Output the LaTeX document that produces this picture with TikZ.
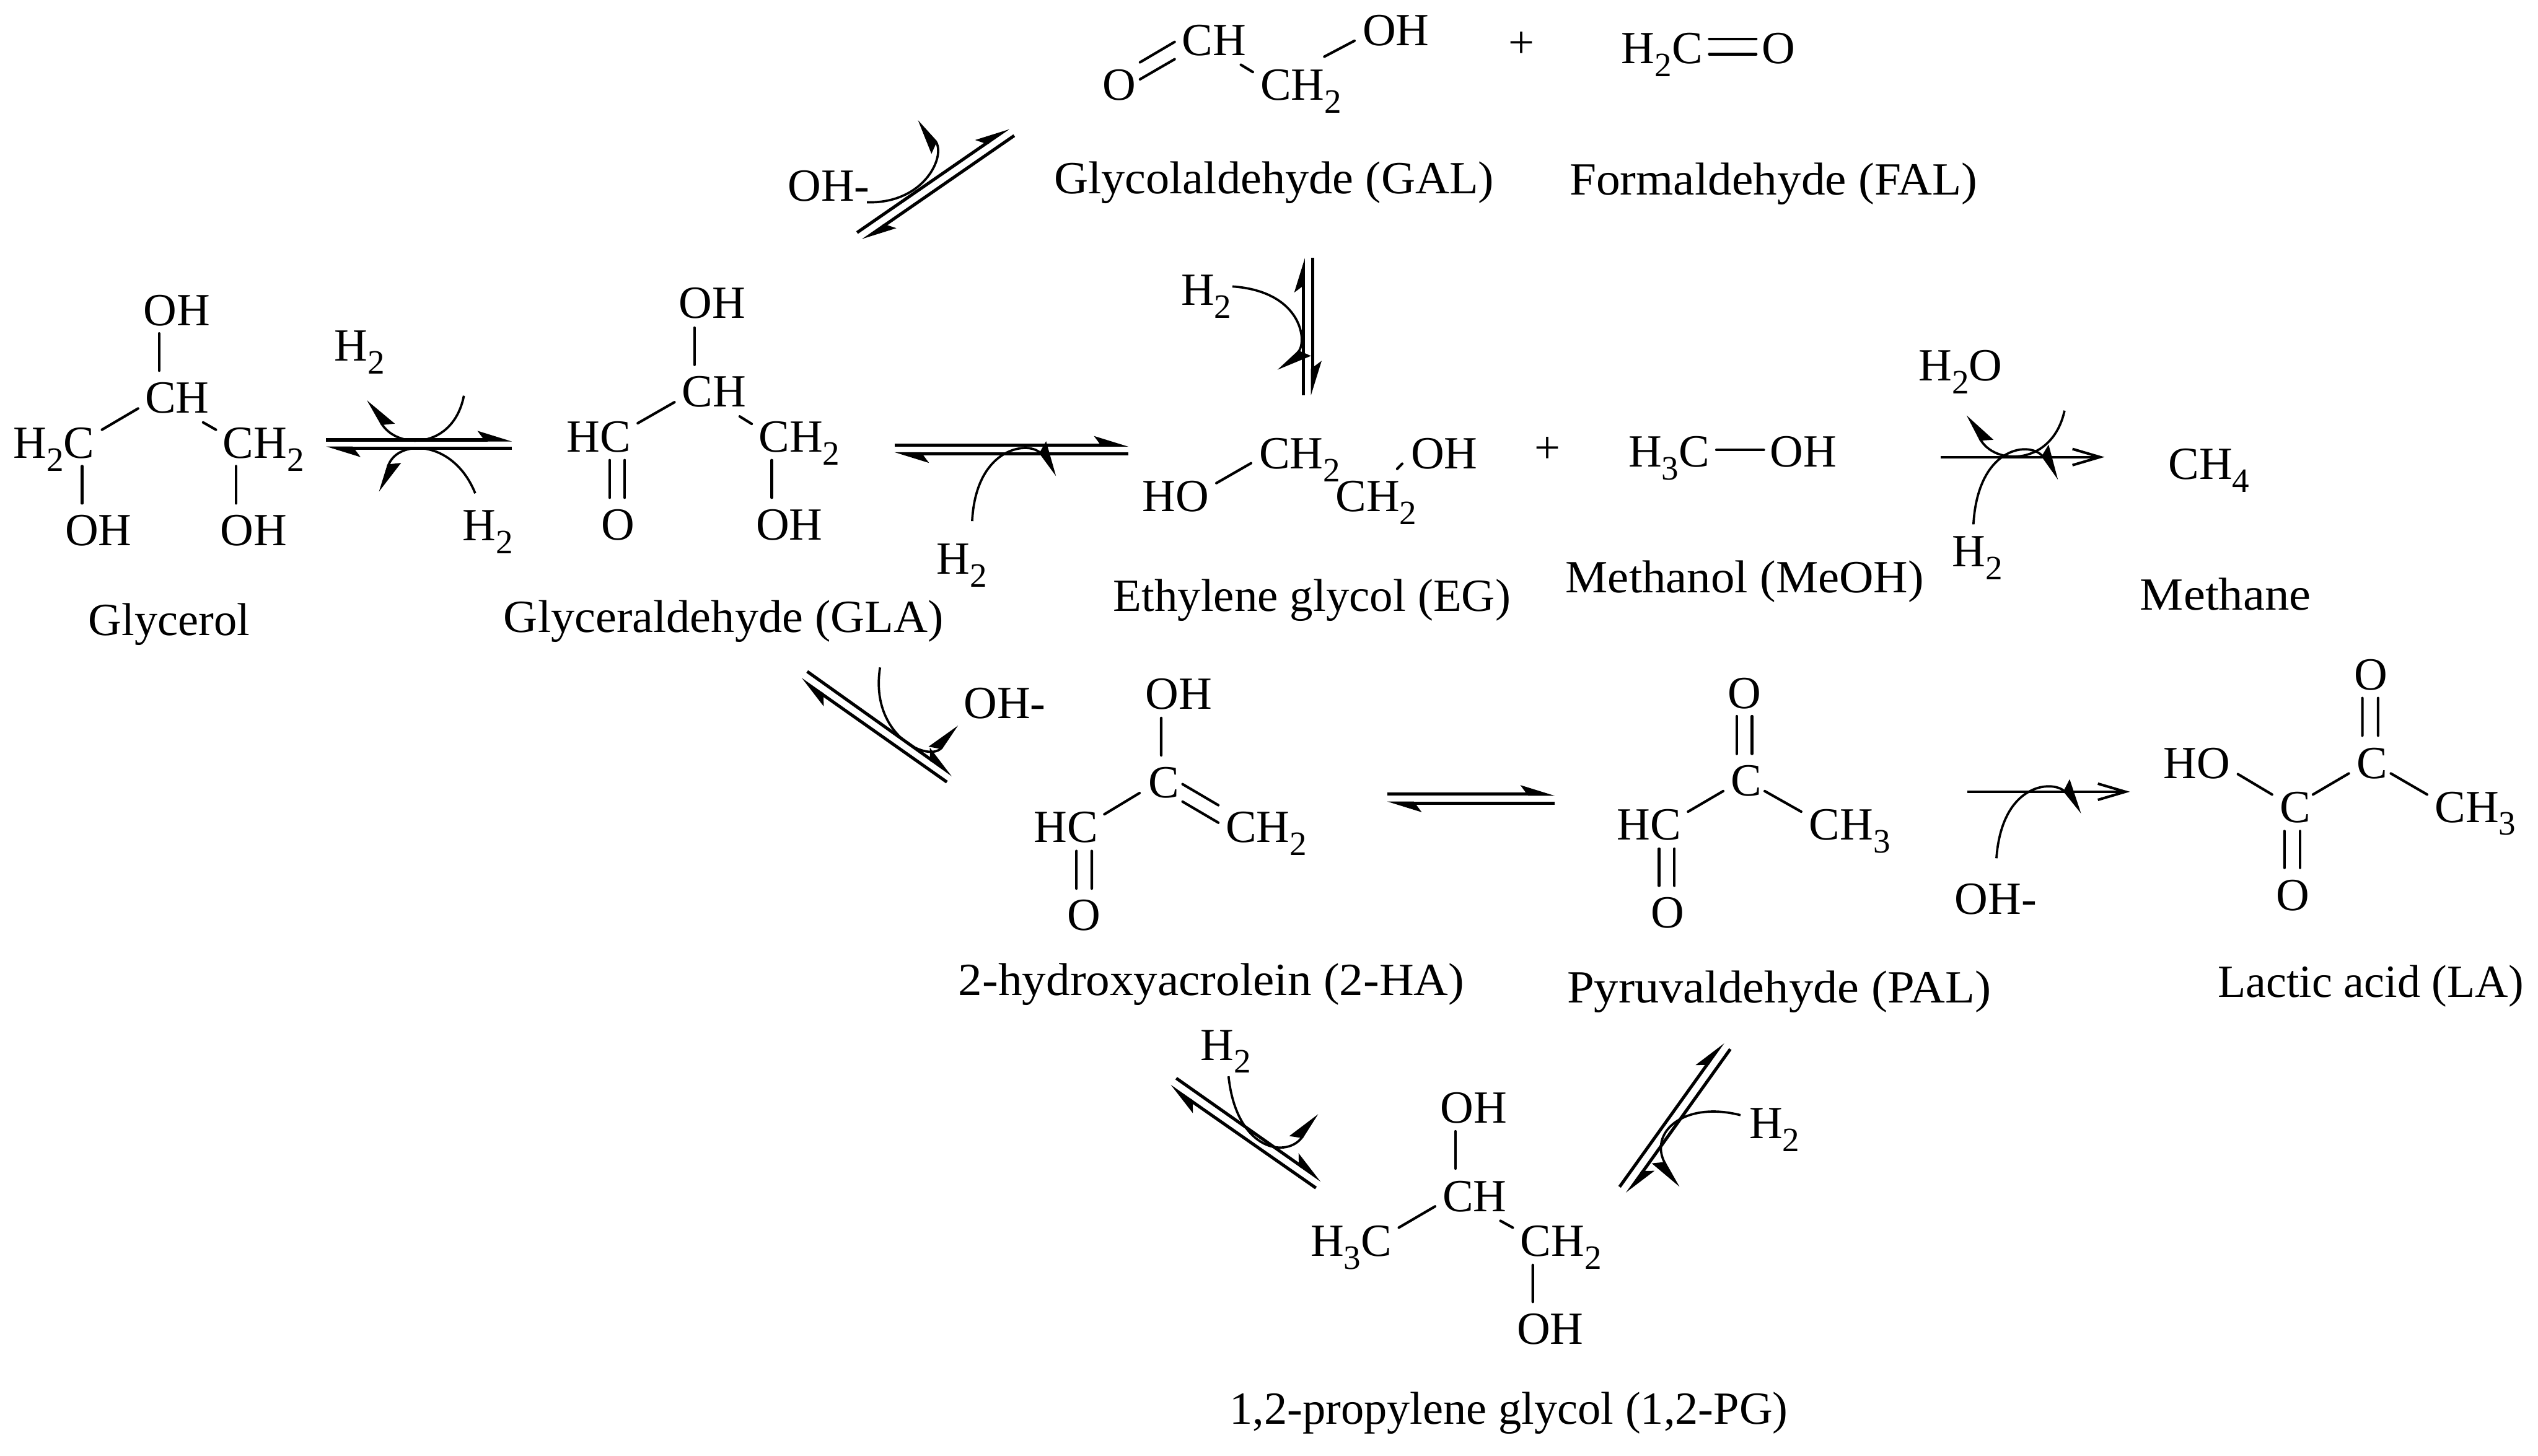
\documentclass[tikz,border=0pt]{standalone}
\usepackage{fontspec}
\setmainfont{Liberation Serif}
\usetikzlibrary{arrows.meta,calc}
\newcommand{\chsub}[1]{\raisebox{-0.08cm}{\fontsize{6}{7}\selectfont #1}}
\tikzset{
    atom/.style={anchor=base west,inner sep=0pt,font=\fontsize{8.1}{10}\selectfont},
    bond/.style={line width=0.45pt},
    eqm/.style={line width=0.55pt,-{Stealth[harpoon,length=1.8mm,width=1.1mm,inset=0.4mm]}},
    single/.style={line width=0.45pt,-{Straight Barb[length=1.7mm,width=1.0mm]}},
    curvl/.style={line width=0.4pt,-{Stealth[harpoon,length=1.9mm,width=1.4mm,inset=0.3mm]}},
    curvr/.style={line width=0.4pt,-{Stealth[harpoon,swap,length=1.9mm,width=1.4mm,inset=0.3mm]}},
}

\begin{document}
\begin{tikzpicture}[x=0.01cm,y=-0.01cm]
    \useasboundingbox (0,0) rectangle (1568,899.4);

    \node [atom] (gl-oh) at (88,201) {OH};
    \node [atom] (gl-ch) at (89,255) {CH};
    \node [atom] (gl-hc) at (7.5,283) {H\chsub{2}C};
    \node [atom] (gl-cc) at (137,283) {CH\chsub{2}};
    \node [atom] (gl-ol) at (39.5,337) {OH};
    \node [atom] (gl-or) at (135.5,337) {OH};
    \node [atom] (gl-nm) at (54,392.6) {Glycerol};
    \node [atom] (gl-ru) at (206,223) {H\chsub{2}};
    \node [atom] (gl-rd) at (285,334) {H\chsub{2}};

    \node [atom] (ga-oh) at (418.7,196.7) {OH};
    \node [atom] (ga-ch) at (420.7,251.3) {CH};
    \node [atom] (ga-hc) at (349.5,279.2) {HC};
    \node [atom] (ga-cc) at (468,279.2) {CH\chsub{2}};
    \node [atom] (ga-o) at (371,333.6) {O};
    \node [atom] (ga-or) at (466.4,333.6) {OH};
    \node [atom] (ga-nm) at (310.5,390.5) {\scalebox{1.026}[1]{Glyceraldehyde (GLA)}};
    \node [atom] (ga-r) at (578,354.7) {H\chsub{2}};

    \node [atom] (gc-ch) at (729.5,34.3) {CH};
    \node [atom] (gc-o) at (680.5,61.8) {O};
    \node [atom] (gc-cc) at (778,61.7) {CH\chsub{2}};
    \node [atom] (gc-oh) at (841.2,28) {OH};
    \node [atom] (gc-nm) at (650.5,119.5) {\scalebox{1.026}[1]{Glycolaldehyde (GAL)}};
    \node [atom] (gc-r) at (486,124.3) {OH-};
    \node [atom] (gc-s) at (729,188.5) {H\chsub{2}};

    \node [atom] (fa-pl) at (931.3,35.8) {+};
    \node [atom] (fa-hc) at (1001,39.3) {H\chsub{2}C};
    \node [atom] (fa-o) at (1088,39.3) {O};
    \node [atom] (fa-nm) at (969,120.3) {\scalebox{1.04}[1]{Formaldehyde (FAL)}};

    \node [atom] (eg-cu) at (777.3,289.5) {CH\chsub{2}};
    \node [atom] (eg-ho) at (705,315.9) {HO};
    \node [atom] (eg-cl) at (824.5,315.9) {CH\chsub{2}};
    \node [atom] (eg-oh) at (871,289.5) {OH};
    \node [atom] (eg-nm) at (687,377.5) {\scalebox{1.008}[1]{Ethylene glycol (EG)}};

    \node [atom] (me-pl) at (947.4,286) {+};
    \node [atom] (me-hc) at (1005.4,288.3) {H\chsub{3}C};
    \node [atom] (me-oh) at (1092.8,288.3) {OH};
    \node [atom] (me-nm) at (966.5,366) {\scalebox{1.033}[1]{Methanol (MeOH)}};

    \node [atom] (mt-ch) at (1339,296) {CH\chsub{4}};
    \node [atom] (mt-nm) at (1321.5,377) {\scalebox{1.06}[1]{Methane}};
    \node [atom] (mt-w) at (1184.6,235.2) {H\chsub{2}O};
    \node [atom] (mt-r) at (1205.4,350) {H\chsub{2}};

    \node [atom] (ha-oh) at (707,438) {OH};
    \node [atom] (ha-c) at (708.8,492.8) {C};
    \node [atom] (ha-hc) at (638,520.3) {HC};
    \node [atom] (ha-cc) at (756.5,520.3) {CH\chsub{2}};
    \node [atom] (ha-o) at (658.7,574.9) {O};
    \node [atom] (ha-nm) at (591.5,615) {\scalebox{1.037}[1]{2-hydroxyacrolein (2-HA)}};
    \node [atom] (ha-r) at (594.7,443.8) {OH-};

    \node [atom] (pa-ot) at (1066.8,437.6) {O};
    \node [atom] (pa-c) at (1068.8,491.7) {C};
    \node [atom] (pa-hc) at (998.4,518.9) {HC};
    \node [atom] (pa-cc) at (1117,518.9) {CH\chsub{3}};
    \node [atom] (pa-o) at (1019.4,573.4) {O};
    \node [atom] (pa-nm) at (967.5,619.7) {\scalebox{1.056}[1]{Pyruvaldehyde (PAL)}};
    \node [atom] (pa-r) at (1207,564.7) {OH-};

    \node [atom] (la-ho) at (1335.9,481) {HO};
    \node [atom] (la-ot) at (1453.8,426.4) {O};
    \node [atom] (la-ct) at (1455.5,481) {C};
    \node [atom] (la-cl) at (1407.8,508) {C};
    \node [atom] (la-cc) at (1503.6,508) {CH\chsub{3}};
    \node [atom] (la-o) at (1405.7,562.7) {O};
    \node [atom] (la-nm) at (1369.5,616.2) {\scalebox{0.995}[1]{Lactic acid (LA)}};

    \node [atom] (pg-oh) at (889.3,694) {OH};
    \node [atom] (pg-ch) at (890.6,748.4) {CH};
    \node [atom] (pg-hc) at (809,776) {H\chsub{3}C};
    \node [atom] (pg-cc) at (938.6,776) {CH\chsub{2}};
    \node [atom] (pg-or) at (936.5,830.5) {OH};
    \node [atom] (pg-nm) at (759,880) {1,2-propylene glycol (1,2-PG)};
    \node [atom] (pg-rl) at (741,655) {H\chsub{2}};
    \node [atom] (pg-rr) at (1080,703.3) {H\chsub{2}};

    % bonds, offsets from the start of each label
    \foreach \a/\ax/\ay/\b/\bx/\by in {
        gl-oh/10.3/5/gl-ch/9.3/-26, gl-ch/-3.7/-2.6/gl-hc/55.5/-17.5,
        gl-ch/36.5/6/gl-cc/-3.6/-17.5, gl-hc/43.2/5/gl-ol/11.2/-26,
        gl-cc/8.8/5/gl-or/10.3/-26,
        ga-oh/10.3/5.8/ga-ch/8.3/-25.9, ga-ch/-4/-2.8/ga-hc/44.5/-17.7,
        ga-ch/36.3/6/ga-cc/-3.6/-17.3, ga-hc/27.2/5.1/ga-o/5.7/-26.1,
        ga-hc/36.5/5.1/ga-o/15/-26.1, ga-cc/8.8/5.1/ga-or/10.4/-26.1,
        gc-ch/-3.8/-8.4/gc-o/23.8/-23.3, gc-ch/-3.8/2.3/gc-o/23.8/-12.8,
        gc-ch/37.1/5.7/gc-cc/-4/-17.2, gc-cc/40.2/-26.7/gc-oh/-4.4/-2.8,
        fa-hc/55/-15.3/fa-o/-3/-15.3, fa-hc/55/-5.8/fa-o/-3/-5.8,
        eg-cu/-4.4/-3.3/eg-ho/46.5/-17.4, eg-cl/38.7/-26.2/eg-oh/-4.7/-3,
        me-hc/55/-10.3/me-oh/-3.1/-10.3,
        ha-oh/10.4/5.6/ha-c/8.6/-26.1, ha-c/-4.8/-2.8/ha-hc/44.3/-17.2,
        ha-c/21.8/-8.3/ha-cc/-3.8/-22.8, ha-c/21.8/2.5/ha-cc/-3.8/-12,
        ha-hc/27/5.5/ha-o/6.3/-25.9, ha-hc/36.5/5.5/ha-o/15.8/-25.9,
        pa-ot/6.2/4.9/pa-c/4.2/-25.9, pa-ot/15.6/4.9/pa-c/13.6/-25.9,
        pa-c/-4.2/-2.9/pa-hc/44.5/-17.4, pa-c/21.5/-2.9/pa-cc/-4.2/-17.4,
        pa-hc/26.6/5.5/pa-o/5.6/-26.1, pa-hc/36.1/5.5/pa-o/15.1/-26.1,
        la-ot/5.7/4.9/la-ct/4/-26.5, la-ot/15.4/4.9/la-ct/13.7/-26.5,
        la-ho/46.7/-2.7/la-cl/-4.1/-17.1, la-ct/-4.4/-3.1/la-cl/21.2/-17.1,
        la-ct/21.6/-3.1/la-cc/-4.1/-17.1,
        la-cl/3.6/5.5/la-o/5.7/-26.5, la-cl/13.2/5.5/la-o/15.3/-26.5,
        pg-oh/9.9/5/pg-ch/8.6/-26.4, pg-ch/-4/-3/pg-hc/55.2/-17.5,
        pg-ch/36.4/5.9/pg-cc/-4/-17.5, pg-cc/8.4/5.6/pg-or/10.5/-26.1}
    {
        \draw [bond,line cap=round] ($(\a.base west)+(\ax,\ay)$) -- ($(\b.base west)+(\bx,\by)$);
    }

    % equilibrium arrows
    \foreach \nm/\xa/\ya/\xb/\yb/\xc/\yc/\xd/\yd in {
        eqa/201.4/271.8/316.3/271.8/316.3/276.8/201.4/276.8,
        eqb/529.5/143.7/623.2/79/626.6/83.8/533/148.5,
        eqc/805.2/244.3/805.2/159.4/810.9/159.4/810.9/244.3,
        eqd/552.6/275/697.2/275/697.2/280.4/552.6/280.4,
        eqe/498.7/414.9/588.6/478.9/585/483.2/494.7/419.6,
        eqf/857/490.7/960.6/490.7/960.6/496.2/857/496.2,
        eqg/726.7/666.2/816.5/729.4/813/734/722.7/671,
        eqh/1000.6/733.3/1064.5/644/1069/648.2/1005.2/737.5}
    {
        \coordinate (\nm-a) at (\xa,\ya);
        \coordinate (\nm-b) at (\xb,\yb);
        \coordinate (\nm-c) at (\xc,\yc);
        \coordinate (\nm-d) at (\xd,\yd);
        \draw [eqm] (\nm-a) -- (\nm-b);
        \draw [eqm] (\nm-c) -- (\nm-d);
    }

    \coordinate (sga) at (1199,282.4);
    \coordinate (sgb) at (1300.2,282.4);
    \coordinate (sha) at (1215.3,489.2);
    \coordinate (shb) at (1315.9,489.2);
    \draw [single] (sga) -- (sgb);
    \draw [single] (sha) -- (shb);

    % curved arrows
    \foreach \nm/\xa/\ya/\xc/\yc/\xd/\yd/\xb/\yb/\sd in {
        cva/286.6/244.5/280/278/245/278/227.3/247/curvr,
        cvb/293.6/304.8/280/271/245/271/234.8/304/curvl,
        cvc/535.6/125/572/126/585/95/566.6/74.7/curvl,
        cvd/761.4/177/805/180/808/212/789.7/229/curvl,
        cve/1275.5/253.7/1268/288/1232/288/1215.6/256.3/curvr,
        cvf/1219.2/324/1222/275/1255/272/1272/296/curvl,
        cvg/600.6/322/603/275/637/272/653/293.8/curvl,
        cvh/543.7/412.4/537/455/575/472/591.3/447.9/curvl,
        cvi/1233.4/530.3/1237/482/1270/482/1286.3/502.3/curvl,
        cvj/759/665/764/712/796/716/813.8/688/curvl,
        cvk/1075.3/689/1040/680/1018/700/1037/733.6/curvr}
    {
        \coordinate (\nm-s) at (\xa,\ya);
        \coordinate (\nm-e) at (\xb,\yb);
        \draw [\sd] (\nm-s) .. controls (\xc,\yc) and (\xd,\yd) .. (\nm-e);
    }
\end{tikzpicture}
\end{document}
